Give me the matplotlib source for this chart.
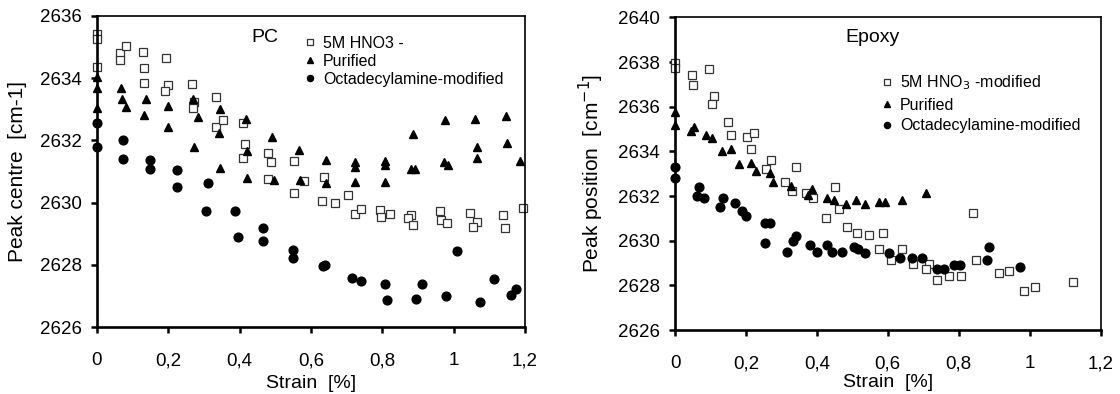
"""
Raman 2D peak position vs strain for three nanotube types in PC and epoxy.
"""

import matplotlib
matplotlib.use("Agg")
import matplotlib.pyplot as plt

plt.rcParams["font.family"] = ["Liberation Sans", "DejaVu Sans"]

# ---- PC panel data ----
pc_hno3_x = [0, 0, 0, 0.065, 0.065, 0.08, 0.128, 0.132, 0.133, 0.194, 0.198, 0.19,
             0.266, 0.271, 0.27, 0.335, 0.335, 0.354, 0.41, 0.415, 0.41, 0.48, 0.489,
             0.48, 0.552, 0.553, 0.581, 0.637, 0.63, 0.668, 0.705, 0.724, 0.741, 0.792,
             0.796, 0.821, 0.88, 0.872, 0.886, 0.962, 0.964, 0.981, 1.047, 1.066, 1.053,
             1.139, 1.145, 1.193]
pc_hno3_y = [2635.41, 2635.25, 2634.37, 2634.8, 2634.59, 2635.04, 2634.83, 2634.32,
             2633.86, 2634.64, 2633.78, 2633.6, 2633.8, 2633.24, 2633.03, 2633.4,
             2632.44, 2632.65, 2632.55, 2631.88, 2631.42, 2631.58, 2631.31, 2630.76,
             2631.34, 2630.32, 2630.69, 2630.83, 2630.06, 2629.98, 2630.23, 2629.63,
             2629.78, 2629.76, 2629.53, 2629.63, 2629.6, 2629.5, 2629.29, 2629.72,
             2629.44, 2629.35, 2629.66, 2629.38, 2629.2, 2629.59, 2629.17, 2629.83]

pc_pur_x = [0, 0, 0, 0.067, 0.07, 0.08, 0.136, 0.132, 0.2, 0.2, 0.27, 0.282, 0.272,
            0.345, 0.343, 0.345, 0.418, 0.42, 0.42, 0.49, 0.495, 0.565, 0.57, 0.643,
            0.643, 0.724, 0.724, 0.724, 0.808, 0.808, 0.808, 0.885, 0.88, 0.892, 0.976,
            0.974, 0.983, 1.06, 1.066, 1.064, 1.146, 1.15, 1.185]
pc_pur_y = [2634.05, 2633.68, 2633.03, 2633.68, 2633.34, 2633.08, 2633.34, 2632.81,
            2633.11, 2632.44, 2633.32, 2632.74, 2631.78, 2633.0, 2632.25, 2631.1,
            2632.7, 2631.67, 2630.79, 2632.1, 2630.72, 2631.68, 2630.73, 2631.37,
            2630.62, 2631.3, 2631.15, 2630.67, 2631.35, 2631.2, 2630.67, 2632.2,
            2631.07, 2631.07, 2632.66, 2631.31, 2631.2, 2632.69, 2631.8, 2631.42,
            2632.79, 2631.93, 2631.33]

pc_oda_x = [0, 0, 0.074, 0.074, 0.149, 0.149, 0.224, 0.224, 0.311, 0.306, 0.387, 0.394,
            0.464, 0.466, 0.549, 0.549, 0.634, 0.64, 0.715, 0.741, 0.808, 0.813, 0.893,
            0.912, 0.979, 1.008, 1.074, 1.113, 1.16, 1.175]
pc_oda_y = [2632.55, 2631.79, 2632.01, 2631.39, 2631.37, 2631.08, 2631.05, 2630.49,
            2630.62, 2629.74, 2629.74, 2628.88, 2629.18, 2628.76, 2628.48, 2628.23,
            2627.96, 2628.0, 2627.59, 2627.48, 2627.37, 2626.86, 2626.89, 2627.37,
            2626.99, 2628.43, 2626.8, 2627.55, 2627.02, 2627.22]

# ---- Epoxy panel data ----
ep_hno3_x = [0, 0, 0.048, 0.052, 0.097, 0.109, 0.104, 0.149, 0.159, 0.202, 0.224, 0.215,
             0.272, 0.256, 0.342, 0.311, 0.331, 0.369, 0.388, 0.45, 0.425, 0.463, 0.484,
             0.512, 0.547, 0.587, 0.576, 0.64, 0.608, 0.672, 0.716, 0.707, 0.738, 0.774,
             0.806, 0.841, 0.848, 0.913, 0.943, 0.984, 1.014, 1.123]
ep_hno3_y = [2637.97, 2637.72, 2637.4, 2636.98, 2637.7, 2636.49, 2636.1, 2635.3,
             2634.72, 2634.63, 2634.8, 2634.1, 2633.61, 2633.21, 2633.31, 2632.64,
             2632.24, 2632.12, 2631.91, 2632.41, 2631.0, 2631.4, 2630.61, 2630.33,
             2630.24, 2630.33, 2629.62, 2629.62, 2629.13, 2628.94, 2628.94, 2628.73,
             2628.24, 2628.43, 2628.43, 2631.22, 2629.13, 2628.54, 2628.64, 2627.73,
             2627.92, 2628.13]

ep_pur_x = [0, 0, 0.044, 0.054, 0.087, 0.104, 0.133, 0.159, 0.18, 0.213, 0.228, 0.269,
            0.276, 0.328, 0.374, 0.387, 0.428, 0.448, 0.481, 0.51, 0.537, 0.574, 0.592,
            0.639, 0.707]
ep_pur_y = [2635.77, 2635.18, 2634.91, 2635.1, 2634.72, 2634.61, 2634.01, 2634.12,
            2633.43, 2633.5, 2633.12, 2633.01, 2632.61, 2632.45, 2632.04, 2632.3,
            2631.91, 2631.82, 2631.63, 2631.82, 2631.63, 2631.71, 2631.71, 2631.82,
            2632.12]

ep_oda_x = [0, 0, 0.067, 0.063, 0.083, 0.127, 0.134, 0.168, 0.19, 0.2, 0.253, 0.268,
            0.253, 0.317, 0.334, 0.341, 0.38, 0.401, 0.428, 0.442, 0.47, 0.505, 0.517,
            0.535, 0.603, 0.634, 0.668, 0.697, 0.738, 0.76, 0.788, 0.804, 0.879, 0.886,
            0.973]
ep_oda_y = [2633.31, 2632.79, 2632.41, 2632.01, 2631.92, 2631.52, 2631.91, 2631.7,
            2631.33, 2631.12, 2630.8, 2630.8, 2629.91, 2629.5, 2630.0, 2630.22, 2629.82,
            2629.5, 2629.82, 2629.5, 2629.5, 2629.73, 2629.62, 2629.43, 2629.43,
            2629.22, 2629.22, 2629.22, 2628.73, 2628.73, 2628.92, 2628.92, 2629.13,
            2629.71, 2628.83]

x_ticks = [0, 0.2, 0.4, 0.6, 0.8, 1.0, 1.2]
x_tick_labels = ["0", "0,2", "0,4", "0,6", "0,8", "1", "1,2"]

fig = plt.figure(figsize=(11.2, 3.94), dpi=100)
ax1 = fig.add_axes([0.0866, 0.170, 0.3822, 0.7894])
ax2 = fig.add_axes([0.6027, 0.1624, 0.3799, 0.7936])


def style_axis(ax, ymin, ymax):
    ax.set_xlim(0, 1.2)
    ax.set_ylim(ymin, ymax)
    ax.set_xticks(x_ticks)
    ax.set_xticklabels(x_tick_labels)
    ax.set_yticks(range(ymin, ymax + 1, 2))
    ax.tick_params(direction="out", length=4, width=1.8, labelsize=13.5)
    ax.tick_params(axis="y", pad=7)
    ax.tick_params(axis="x", pad=14)
    ax.spines["left"].set_linewidth(1.9)
    ax.spines["bottom"].set_linewidth(1.9)
    ax.spines["top"].set_linewidth(1.2)
    ax.spines["right"].set_linewidth(1.2)


def draw_series(ax, hx, hy, px, py, ox, oy, labels):
    ax.plot(hx, hy, ls="none", marker="s", ms=6, mfc="white", mec="#333333", mew=0.9,
            clip_on=False, label=labels[0])
    ax.plot(px, py, ls="none", marker="^", ms=6, color="black", clip_on=False,
            label=labels[1])
    ax.plot(ox, oy, ls="none", marker="o", ms=6.3, color="black", clip_on=False,
            label=labels[2])


draw_series(ax1, pc_hno3_x, pc_hno3_y, pc_pur_x, pc_pur_y, pc_oda_x, pc_oda_y,
            ["5M HNO3 -", "Purified", "Octadecylamine-modified"])
style_axis(ax1, 2626, 2636)
ax1.set_xlabel("Strain  [%]", fontsize=14, labelpad=4)
ax1.set_ylabel("Peak centre  [cm-1]", fontsize=15)
ax1.yaxis.set_label_coords(-0.163, 0.5)
ax1.text(0.393, 0.932, "PC", transform=ax1.transAxes, fontsize=14,
         ha="center", va="center")
ax1.legend(loc="upper left", bbox_to_anchor=(0.487, 0.937), frameon=False,
           fontsize=11.5, markerscale=0.7, handlelength=0.6, handletextpad=0.5,
           labelspacing=0.2, borderpad=0, borderaxespad=0)

draw_series(ax2, ep_hno3_x, ep_hno3_y, ep_pur_x, ep_pur_y, ep_oda_x, ep_oda_y,
            ["5M HNO$_3$ -modified", "Purified", "Octadecylamine-modified"])
style_axis(ax2, 2626, 2640)
ax2.set_xlabel("Strain  [%]", fontsize=14, labelpad=1.5)
ax2.set_ylabel("Peak position  [cm$^{-1}$]", fontsize=15)
ax2.yaxis.set_label_coords(-0.162, 0.5)
ax2.text(0.463, 0.934, "Epoxy", transform=ax2.transAxes, fontsize=14,
         ha="center", va="center")
ax2.legend(loc="upper left", bbox_to_anchor=(0.487, 0.82), frameon=False,
           fontsize=11.5, markerscale=0.7, handlelength=0.6, handletextpad=0.5,
           labelspacing=0.35, borderpad=0, borderaxespad=0)

fig.savefig("out.png", dpi=100)
